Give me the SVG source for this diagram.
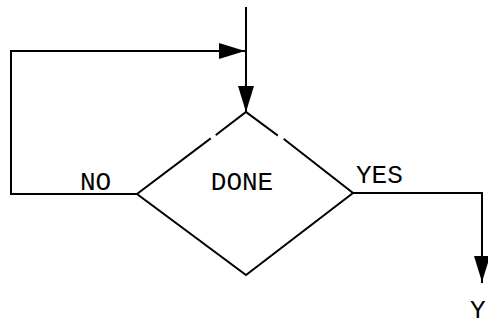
<svg xmlns="http://www.w3.org/2000/svg" width="488" height="327" viewBox="0 0 488 327">
  <defs>
    <marker id="arrow" viewBox="0 0 26 16" refX="26" refY="8" markerWidth="26" markerHeight="16" markerUnits="userSpaceOnUse" orient="auto">
      <path d="M0,0 L26,8 L0,16 Z" fill="#000"/>
    </marker>
  </defs>
  <style>
    .line { fill: none; stroke: #000; stroke-width: 2; stroke-linecap: square; }
    .label { font-family: "Liberation Mono", "DejaVu Sans Mono", monospace; font-size: 26px; fill: #000; }
  </style>
  <rect width="488" height="327" fill="#fff"/>

  <g id="connectors">
    <!-- incoming line from above into the decision -->
    <path class="line" d="M246,8 L246,112" marker-end="url(#arrow)"/>
    <!-- NO branch loops back to the top -->
    <path class="line" d="M137,194 L11,194 L11,51 L245,51" marker-end="url(#arrow)"/>
    <!-- YES branch continues down on the right -->
    <path class="line" d="M353,193 L482,193 L482,282" marker-end="url(#arrow)"/>
    <text class="label" x="80" y="190">NO</text>
    <text class="label" x="356" y="183">YES</text>
  </g>

  <g id="decision-done">
    <path class="line" d="M246,112 L216.5,134.5 M210,139 L137,194 L246,275 L353,193 L284.5,139.5 M277,135 L246,112"/>
    <text class="label" x="242" y="190" text-anchor="middle" font-size="27">DONE</text>
  </g>

  <g id="next-step">
    <text class="label" x="470" y="318">Y</text>
  </g>
</svg>
